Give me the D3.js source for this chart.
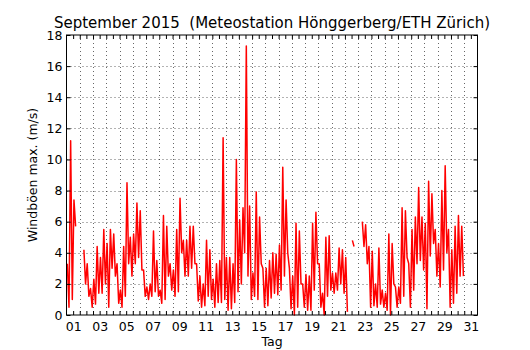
<!DOCTYPE html>
<html>
<head>
<meta charset="utf-8">
<script src="https://cdn.jsdelivr.net/npm/d3@7"></script>
<style>
  body { margin: 0; background: #fff; }
  text { font-family: "DejaVu Sans", sans-serif; }
</style>
</head>
<body>
<div id="wind-plot"></div>
<script>
const w = 530
const h = 350
const plotLeft = 66.5
const plotRight = 477.5
const plotTop = 35
const plotBottom = 315

// Windböen September 2015, 6-hour bins from Sep 1 00:00 (drawn at day 0.5)
// high / low gust inside each bin, null = no data
const firstDay = 0.5
const binDays = 0.25
const gustHigh = [
  3.3, 11.2, 7.4, null, null, 4.2, 3.3, 1.7, 2.3, 4.4,
  3.7, 5.5, 4.6, 5.5, 5.2, 3.3, 1.6, 4.4, 8.5, 5.0,
  5.2, 7.2, 6.7, 2.9, 1.8, 2.0, 5.4, 3.5, 1.6, 6.4,
  5.7, 3.3, 2.9, 5.5, 7.5, 4.8, 4.8, 5.7, 5.7, 3.3,
  2.5, 2.0, 4.8, 4.2, 2.3, 3.3, 3.5, 11.4, 3.7, 3.7,
  3.3, 10.0, 6.1, 6.9, 17.3, 7.0, 2.7, 7.9, 6.3, 3.0,
  3.0, 3.5, 4.0, 3.9, 4.5, 9.5, 7.4, 3.0, 2.5, 5.9,
  5.4, 2.0, 2.6, 2.5, 5.9, 6.6, 3.3, 1.4, 5.0, 5.1,
  2.7, 2.7, 4.3, 4.2, 3.7, null, 4.8, null, null, 6.0,
  5.8, 4.4, 4.1, 2.0, 4.3, 1.6, 1.4, 5.2, 4.6, 1.8,
  1.8, 6.9, 6.7, 3.3, 5.5, 6.3, 8.2, 6.3, 5.9, 8.6,
  7.8, 5.5, 4.6, 8.0, 9.6, 5.5, 4.2, 5.7, 6.4, 5.7
]
const gustLow = [
  0.5, 1.0, 5.7, null, null, 2.0, 1.2, 0.5, 0.7, 1.4,
  1.4, 2.0, 0.5, 3.0, 2.5, 0.75, 0.5, 1.2, 3.3, 2.5,
  3.3, 3.7, 2.9, 1.2, 1.0, 1.2, 1.5, 1.2, 0.75, 1.0,
  2.5, 1.6, 1.2, 1.5, 4.0, 2.5, 2.5, 3.0, 3.3, 0.9,
  0.5, 0.6, 1.2, 1.0, 0.5, 0.8, 0.8, 1.0, 0.3, 0.4,
  0.8, 1.5, 2.0, 4.0, 2.5, 1.0, 1.2, 1.0, 3.3, 0.5,
  0.6, 1.1, 1.4, 1.3, 1.6, 2.5, 4.0, 0.4, 0.0, 0.5,
  2.0, 0.5, 0.3, 0.3, 1.6, 3.3, 0.5, 0.0, 1.2, 1.6,
  1.4, 1.6, 2.0, 1.4, 0.2, null, 4.4, null, null, 4.4,
  3.3, 0.5, 0.6, 0.5, 0.7, 0.5, 0.3, 0.0, 2.0, 0.5,
  0.75, 1.2, 3.7, 0.5, 1.6, 3.3, 3.5, 2.9, 0.4, 3.8,
  4.6, 2.5, 1.8, 2.9, 4.0, 0.5, 0.75, 1.4, 2.5, 2.5
]

const yTicks = [0, 2, 4, 6, 8, 10, 12, 14, 16, 18]
const dayLabels = [1, 3, 5, 7, 9, 11, 13, 15, 17, 19, 21, 23, 25, 27, 29, 31]

const svg = d3.select("#wind-plot")
              .append("svg")
                .attr("width", w)
                .attr("height", h)

const xScale = d3.scaleLinear().domain([0.5, 31.5]).range([plotLeft, plotRight])
const yScale = d3.scaleLinear().domain([0, 18]).range([plotBottom, plotTop])

// --- grid (dotted, at midnights and every 2 m/s) ---
const crisp = v => Math.round(v) + 0.5
const midnights = d3.range(1.5, 31, 1)

svg.append("g")
   .selectAll("line")
   .data(midnights)
   .join("line")
     .attr("x1", d => crisp(xScale(d)))
     .attr("x2", d => crisp(xScale(d)))
     .attr("y1", plotTop)
     .attr("y2", plotBottom)
     .attr("stroke", "#000")
     .attr("stroke-width", 0.6)
     .attr("stroke-dasharray", "1,3")

svg.append("g")
   .selectAll("line")
   .data(yTicks.slice(1, -1))
   .join("line")
     .attr("x1", plotLeft)
     .attr("x2", plotRight)
     .attr("y1", d => crisp(yScale(d)))
     .attr("y2", d => crisp(yScale(d)))
     .attr("stroke", "#000")
     .attr("stroke-width", 0.6)
     .attr("stroke-dasharray", "1,3")

// --- data line: each bin drawn as high then low ---
const points = []
gustHigh.forEach((hi, i) => {
  const t0 = firstDay + i * binDays
  points.push({ t: t0 + binDays * 0.25, v: hi })
  points.push({ t: t0 + binDays * 0.75, v: gustLow[i] })
})

const line = d3.line()
               .defined(d => d.v !== null)
               .x(d => xScale(d.t))
               .y(d => yScale(d.v))

svg.append("path")
   .datum(points)
   .attr("d", line)
   .attr("fill", "none")
   .attr("stroke", "#ff0000")
   .attr("stroke-width", 1.5)
   .attr("stroke-linejoin", "round")

// --- axes, ticks pointing inward ---
const halfDays = d3.range(1, 31.01, 0.5)

svg.append("g")
   .attr("transform", `translate(0, ${plotBottom})`)
   .call(d3.axisBottom(xScale).tickValues(halfDays).tickSize(-4).tickFormat(""))
svg.append("g")
   .attr("transform", `translate(0, ${plotTop})`)
   .call(d3.axisTop(xScale).tickValues(halfDays).tickSize(-4).tickFormat(""))
svg.append("g")
   .attr("class", "x-labels")
   .attr("transform", `translate(0, ${plotBottom})`)
   .call(d3.axisBottom(xScale).tickValues(dayLabels).tickSize(0).tickPadding(7)
           .tickFormat(d3.format("02d")))

svg.append("g")
   .attr("class", "y-labels")
   .attr("transform", `translate(${plotLeft}, 0)`)
   .call(d3.axisLeft(yScale).tickValues(yTicks).tickSize(-4).tickPadding(4))
svg.append("g")
   .attr("transform", `translate(${plotRight}, 0)`)
   .call(d3.axisRight(yScale).tickValues(yTicks).tickSize(-4).tickFormat(""))

svg.selectAll(".domain").remove()
svg.selectAll(".tick line").attr("stroke", "#000")
svg.selectAll(".x-labels text, .y-labels text")
   .attr("font-family", "DejaVu Sans")
   .attr("font-size", 12.5)
   .attr("fill", "#000")

// frame
svg.append("rect")
   .attr("x", plotLeft)
   .attr("y", plotTop)
   .attr("width", plotRight - plotLeft)
   .attr("height", plotBottom - plotTop)
   .attr("fill", "none")
   .attr("stroke", "#000")
   .attr("stroke-width", 1)

// titles
svg.append("text")
   .attr("x", (plotLeft + plotRight) / 2)
   .attr("y", 28)
   .attr("text-anchor", "middle")
   .attr("font-size", 15)
   .style("white-space", "pre")
   .text("September 2015  (Meteostation Hönggerberg/ETH Zürich)")

svg.append("text")
   .attr("x", (plotLeft + plotRight) / 2)
   .attr("y", 346)
   .attr("text-anchor", "middle")
   .attr("font-size", 12.5)
   .text("Tag")

svg.append("text")
   .attr("transform", `translate(33, ${(plotTop + plotBottom) / 2}) rotate(-90)`)
   .attr("dy", "0.35em")
   .attr("text-anchor", "middle")
   .attr("font-size", 12.5)
   .text("Windböen max. (m/s)")
</script>
</body>
</html>
